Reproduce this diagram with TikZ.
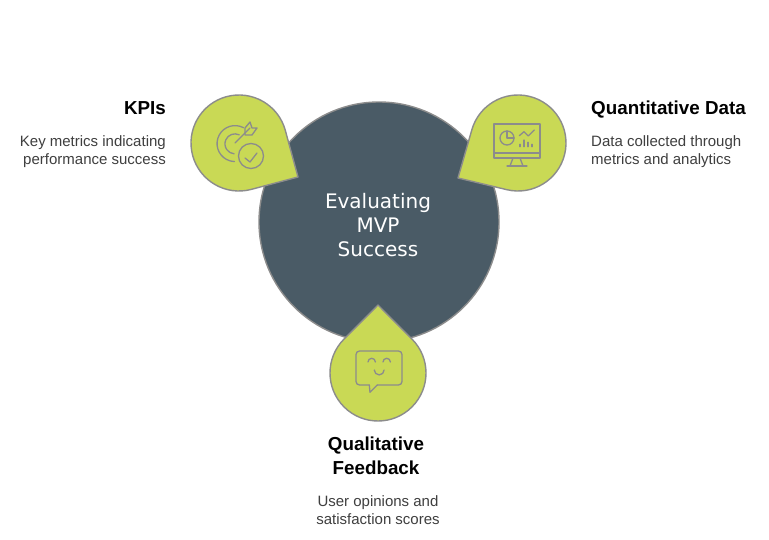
\documentclass[tikz,border=0pt]{standalone}
\usepackage{fontspec}
\setmainfont{Liberation Sans}
\newfontfamily\centerfont{DejaVu Sans}
\definecolor{hub}{HTML}{4A5B66}
\definecolor{leaf}{HTML}{C9D955}
\definecolor{edge}{HTML}{8C8C8C}
\definecolor{bodytext}{HTML}{3F3F3F}
\newcommand{\dropshape}[4]{% cx cy tx ty (y-up picture coords)
  \pgfmathsetmacro{\dd}{veclen(#3-#1,#4-#2)}
  \pgfmathsetmacro{\aa}{atan2(#4-#2,#3-#1)}
  \pgfmathsetmacro{\bb}{acos(48/\dd)}
  \pgfmathsetmacro{\st}{\aa+\bb}
  \draw[dropstyle] (#3,#4) -- ($(#1,#2)+(\st:48)$) arc[start angle=\st,delta angle=360-2*\bb,radius=48] -- cycle;
}
\usetikzlibrary{calc}
\tikzset{
  x=1pt,y=1pt,
  dropstyle/.style={fill=leaf,draw=edge,line width=1.4pt,line join=round},
  icon/.style={draw=edge,line width=1.3pt,line cap=round,line join=round},
  headl/.style={font=\bfseries\fontsize{18.8}{24}\selectfont,text=black,inner sep=0pt},
  descl/.style={font=\fontsize{15}{18}\selectfont,text=bodytext,inner sep=0pt},
}
\begin{document}
\begin{tikzpicture}
\useasboundingbox (0,0) rectangle (769,-540);
\fill[white] (0,0) rectangle (769,-540);
\draw[fill=hub,draw=edge,line width=1.4pt] (379,-222) circle[radius=120];
\dropshape{239}{-143}{298}{-177}
\dropshape{518}{-143}{458}{-178}
\dropshape{378}{-373}{378}{-305}
\node[font=\centerfont\fontsize{20}{24}\selectfont,text=white,align=center,inner sep=0pt] (center) at (378,-225) {Evaluating\\MVP\\Success};
% KPI icon
\draw[icon] (243.5,-127.7) arc[start angle=62,end angle=268,radius=18];
\draw[icon] (239.2,-134.8) arc[start angle=65,end angle=265,radius=10];
\draw[icon] (235,-143) -- (250,-128);
\draw[icon] (245,-128) -- (250,-122) -- (252,-128) -- (257,-128) -- (252,-135) -- (245,-135) -- cycle;
\draw[icon,fill=leaf] (251,-156) circle[radius=12.5];
\draw[icon] (245,-158) -- (250,-162) -- (257,-153);
% monitor icon
\draw[icon] (494,-124) rectangle (540,-158);
\draw[icon] (494,-153) -- (540,-153);
\draw[icon] (513,-158) -- (510,-166);
\draw[icon] (520,-158) -- (523,-166);
\draw[icon] (507,-166) -- (527,-166);
\draw[icon] (507,-138) circle[radius=7];
\draw[icon] (507,-131) -- (507,-138) -- (514,-138);
\draw[icon] (519.3,-135.7) -- (524,-131.7) -- (528.3,-136) -- (534.3,-130);
\draw[icon] (520,-144.3) -- (520,-146.7);
\draw[icon] (524,-140) -- (524,-146.7);
\draw[icon] (528,-142.3) -- (528,-146.7);
\draw[icon] (532,-144.3) -- (532,-146.7);
% chat icon
\draw[icon,rounded corners=1.5pt] (369.3,-385) -- (358,-385) -- (356,-383) -- (356,-353) -- (358,-351) -- (400,-351) -- (402,-353) -- (402,-383) -- (400,-385) -- (377.3,-385);
\draw[icon] (369.3,-385) -- (370,-392.3) -- (377.3,-385);
\draw[icon] (368,-362) arc[start angle=180,end angle=0,radius=3.7];
\draw[icon] (383,-362) arc[start angle=180,end angle=0,radius=3.7];
\draw[icon] (374.3,-370) arc[start angle=180,end angle=360,radius=4.9];
% labels
\node[headl,anchor=east] (kpih) at (166,-108) {KPIs};
\node[descl,align=right,anchor=east] (kpid) at (166,-151.5) {Key metrics indicating\\performance success};
\node[headl,anchor=west] (quanh) at (591,-109.5) {Quantitative Data};
\node[descl,align=left,anchor=west] (quand) at (591,-152) {Data collected through\\metrics and analytics};
\node[headl,align=center] (qualh) at (376,-456) {Qualitative\\Feedback};
\node[descl,align=center] (quald) at (378,-510) {User opinions and\\satisfaction scores};
\end{tikzpicture}
\end{document}
